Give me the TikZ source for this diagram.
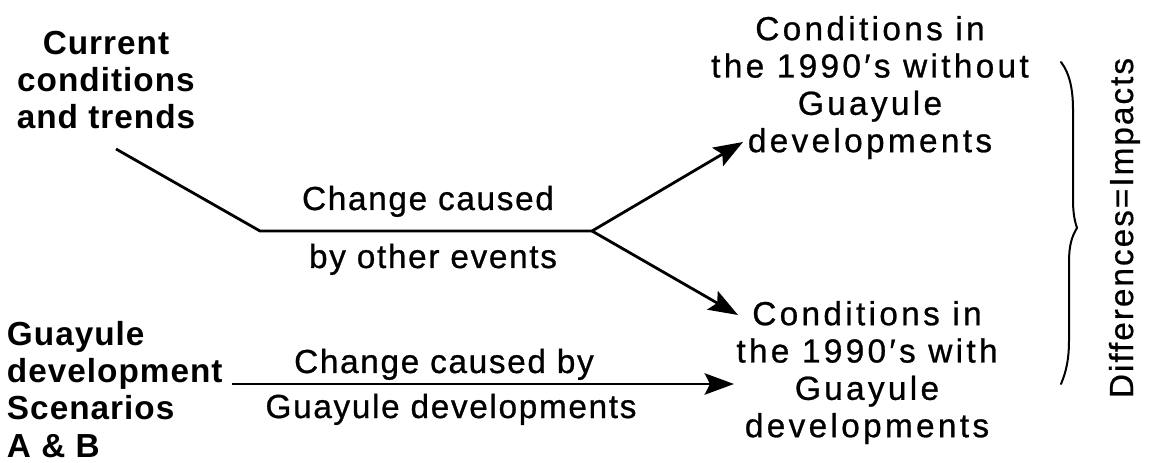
\documentclass[tikz,border=0pt]{standalone}
\usepackage{fontspec}
\setmainfont{Liberation Sans}
\newfontfamily\leftfont[LetterSpace=3.0]{Liberation Sans}
\newfontfamily\midfont[LetterSpace=5.0,FakeBold=0.8]{Liberation Sans}
\newfontfamily\rightfont[LetterSpace=10.0,FakeBold=0.8]{Liberation Sans}
\newfontfamily\sidefont[LetterSpace=6.0,FakeBold=0.6]{Liberation Sans}
\usetikzlibrary{arrows.meta}
\begin{document}
\begin{tikzpicture}[x=0.75pt,y=-0.75pt,
  leftlbl/.style={inner sep=0pt, outer sep=0pt, font=\leftfont\bfseries\fontsize{25}{28}\selectfont},
  midlbl/.style={inner sep=0pt, outer sep=0pt, anchor=base, font=\midfont\fontsize{25}{28}\selectfont},
  rightlbl/.style={inner sep=0pt, outer sep=0pt, anchor=north, align=center, font=\rightfont\fontsize{25}{28}\selectfont},
  sidelbl/.style={inner sep=0pt, outer sep=0pt, anchor=base, rotate=90, font=\sidefont\fontsize{25}{28}\selectfont},
  conn/.style={line width=2.1pt, line join=miter},
  arr/.style={conn, -{Stealth[length=22pt,width=16pt,inset=4pt]}},
  bracestyle/.style={line width=1.5pt, line cap=round}]
\useasboundingbox (0,0) rectangle (1153,463);

% text blocks
\node[leftlbl, anchor=north, align=center] (current) at (106,31) {Current\\conditions\\and trends};
\node[leftlbl, anchor=north west, align=left] (scen) at (7,321) {Guayule\\development\\Scenarios\\A \& B};

\node[midlbl] (chg1) at (428,210) {Change caused};
\node[midlbl] (chg2) at (433,268) {by other events};
\node[midlbl] (chg3) at (444,373) {Change caused by};
\node[midlbl] (chg4) at (451,418) {Guayule developments};

\node[rightlbl] (without) at (870,16) {Conditions in\\the 1990′s without\\Guayule\\developments};
\node[rightlbl] (with) at (867,301) {Conditions in\\the 1990′s with\\Guayule\\developments};

\node[sidelbl] (impacts) at (1133,228) {Differences=Impacts};

% connector points
\coordinate (curEnd) at (116,149);
\coordinate (bend) at (260,231);
\coordinate (fork) at (592,231);
\coordinate (upTip) at (743,142);
\coordinate (lowTip) at (738,315);
\coordinate (scenEnd) at (232,384);
\coordinate (withTip) at (734,384);

\draw[conn] (curEnd) -- (bend) -- (fork);
\draw[arr] (fork) -- (upTip);
\draw[arr] (fork) -- (lowTip);
\draw[arr] (scenEnd) -- (withTip);

% brace
\draw[bracestyle] (1061,62) .. controls (1070,74) and (1073,90) .. (1073,110)
  -- (1073,200) .. controls (1073,214) and (1075,222) .. (1077,228)
  .. controls (1072,236) and (1069,245) .. (1069,262)
  -- (1069,340) .. controls (1069,360) and (1066,372) .. (1061,384);
\end{tikzpicture}
\end{document}
